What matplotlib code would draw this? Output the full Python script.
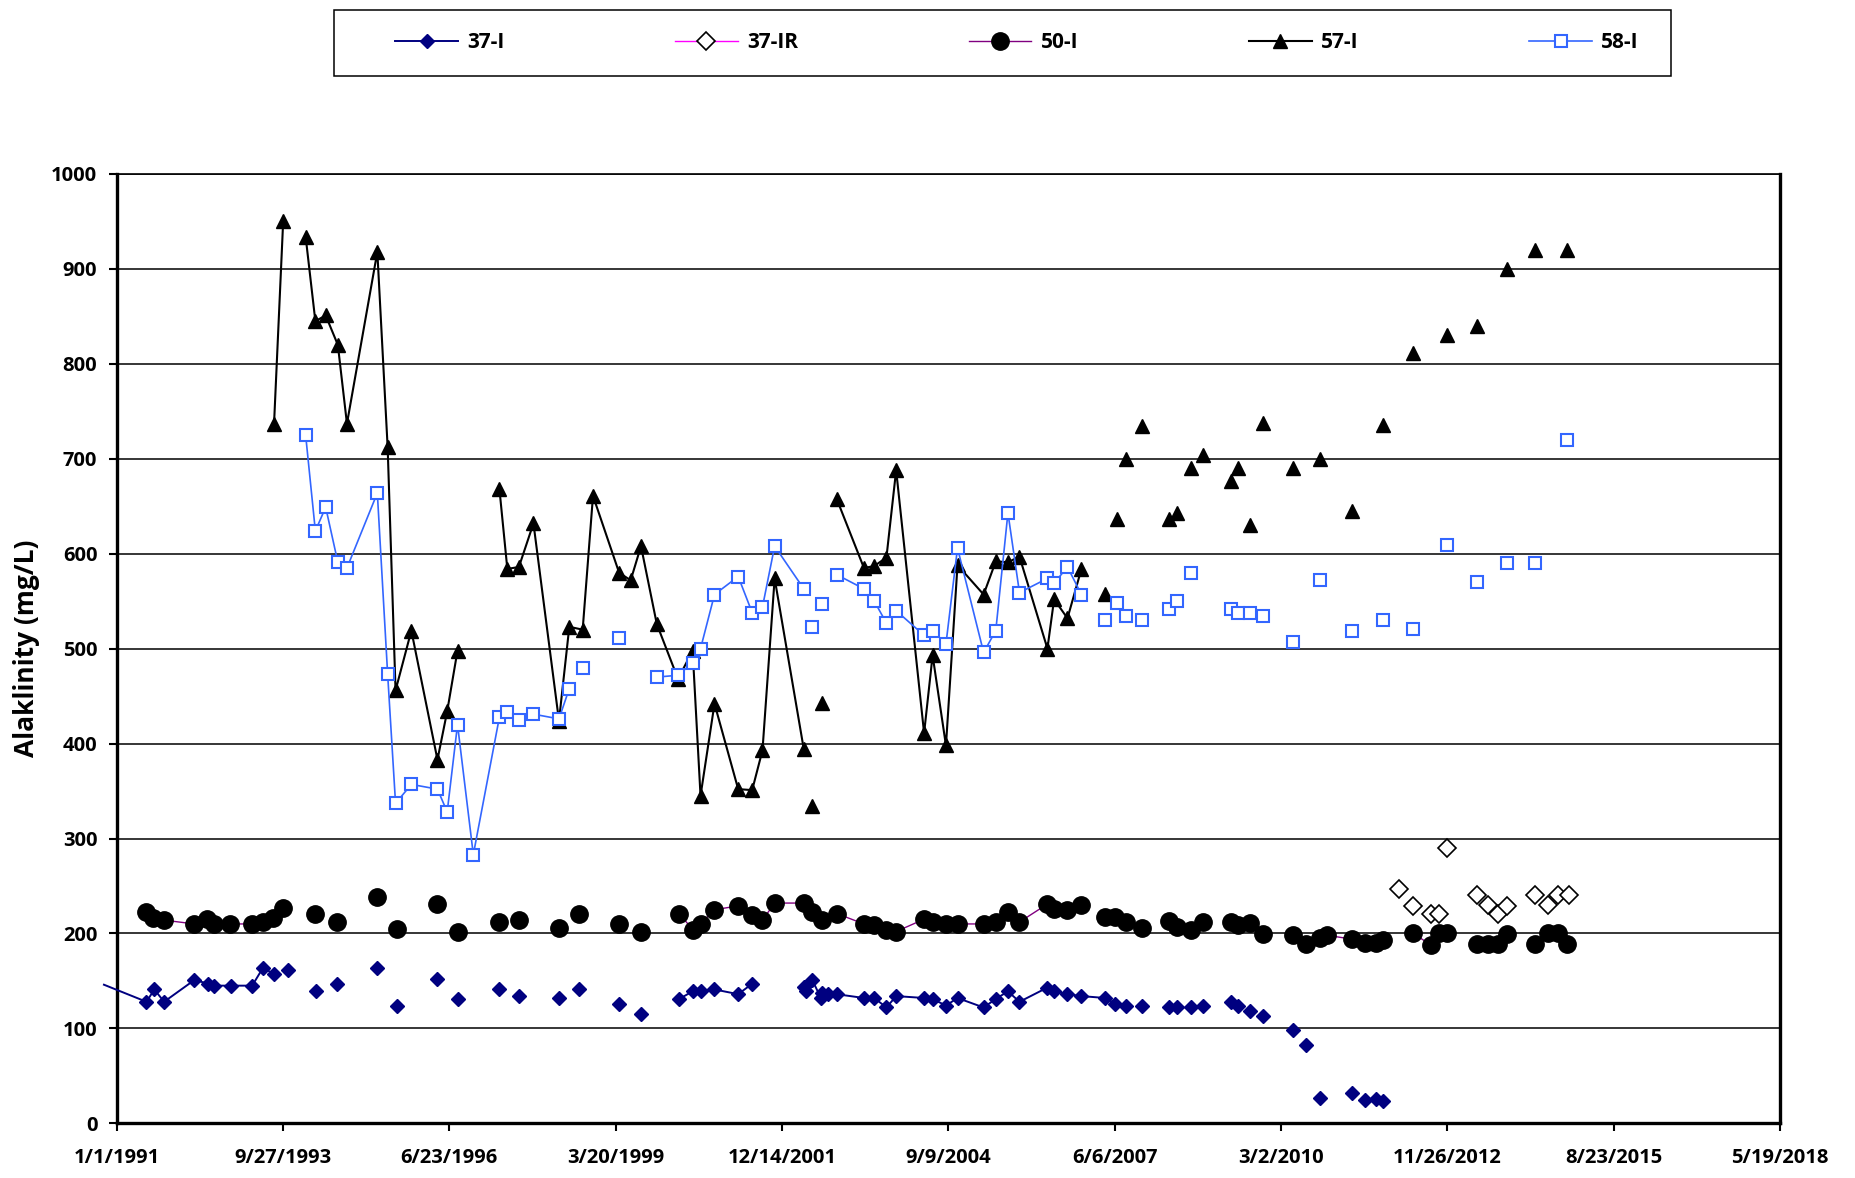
import numpy as np
import matplotlib.pyplot as plt
from matplotlib.lines import Line2D
from matplotlib.patches import Rectangle
from datetime import date, timedelta

plt.rcParams['font.family'] = ['Open Sans', 'DejaVu Sans']
plt.rcParams['font.weight'] = 'bold'

G = np.nan  # blank cell -> Excel leaves the line open

# sample dates as decimal years, alkalinity in mg/L
w37_yr = [1990.79, 1991.49, 1991.62, 1991.78, 1992.28, 1992.51, 1992.60, 1992.88, 1993.23, 1993.41, 1993.59,
          G, 1993.82, G, 1994.28, G, 1994.63, G, 1995.29, G, 1995.62, G, 1996.28, G, 1996.61, G, 1997.30,
          G, 1997.62, G, 1998.28, G, 1998.61, G, 1999.27, G, 1999.63, G,
          2000.26, 2000.48, 2000.61, 2000.84, 2001.23, 2001.46, G,
          2002.31, 2002.35, 2002.45, 2002.59, 2002.61, 2002.71, 2002.85, 2003.30, 2003.47, 2003.67, 2003.83,
          2004.29, 2004.43, 2004.65, 2004.84, 2005.27, 2005.47, 2005.67, 2005.86, 2006.32, 2006.43, 2006.65,
          2006.88, 2007.27, 2007.44, 2007.61, G, 2007.87, G, 2008.32, G, 2008.46, G, 2008.69, G, 2008.88, G,
          2009.34, 2009.46, G, 2009.66, G, 2009.87, G, 2010.36, G, 2010.57, G, 2010.80, G, 2011.33, G,
          2011.54, G, 2011.73, G, 2011.84]
w37_val = [146, 128, 141, 128, 151, 147, 145, 145, 145, 164, 157,
           G, 162, G, 139, G, 147, G, 164, G, 124, G, 152, G, 131, G, 141,
           G, 134, G, 132, G, 141, G, 126, G, 115, G,
           131, 139, 139, 141, 136, 147, G,
           144, 139, 151, 132, 137, 136, 136, 132, 132, 122, 134,
           132, 131, 124, 132, 122, 131, 139, 128, 143, 139, 136,
           134, 132, 126, 124, G, 124, G, 122, G, 122, G, 122, G, 124, G,
           128, 124, G, 118, G, 113, G, 98, G, 82, G, 27, G, 32, G,
           25, G, 26, G, 23]

w37r_yr = [2012.11, G, 2012.34, G, 2012.63, G, 2012.76, G, 2012.89, G, 2013.39, G,
           2013.57, 2013.74, 2013.89, G, 2014.35, G, 2014.56, 2014.72, G, 2014.90]
w37r_val = [247, G, 229, G, 220, G, 221, G, 290, G, 240, G,
            230, 221, 229, G, 240, G, 230, 240, G, 240]

w50_yr = [1991.48, 1991.60, 1991.78, 1992.28, 1992.49, 1992.60, 1992.86, 1993.22, 1993.41, 1993.58, 1993.74,
          G, 1994.27, G, 1994.63, G, 1995.29, G, 1995.62, G, 1996.28, G, 1996.61, G, 1997.30, G, 1997.62,
          G, 1998.28, G, 1998.61, G, 1999.27, G, 1999.63, G,
          2000.26, 2000.48, 2000.61, 2000.84, 2001.23, 2001.46, 2001.63, 2001.83, 2002.31, 2002.45, 2002.61,
          2002.85, 2003.30, 2003.47, 2003.67, 2003.83, 2004.29, 2004.43, 2004.65, 2004.84, 2005.27, 2005.47,
          2005.67, 2005.86, 2006.32, 2006.43, 2006.65, 2006.88, G,
          2007.27, 2007.44, 2007.61, 2007.87, G, 2008.32, 2008.46, 2008.69, 2008.88, G,
          2009.34, 2009.46, 2009.66, 2009.87, G, 2010.36, 2010.57, 2010.80, 2010.93, 2011.33, 2011.54,
          2011.73, 2011.84, G, 2012.34, 2012.63, 2012.76, 2012.89, G, 2013.39, 2013.57, 2013.74, 2013.89, G,
          2014.35, 2014.56, 2014.72, 2014.88]
w50_val = [223, 216, 214, 210, 215, 210, 210, 210, 212, 216, 227,
           G, 221, G, 212, G, 238, G, 205, G, 231, G, 202, G, 212, G, 214,
           G, 206, G, 220, G, 210, G, 202, G,
           221, 204, 210, 225, 229, 219, 214, 232, 232, 223, 214,
           221, 210, 209, 204, 202, 215, 212, 210, 210, 210, 212,
           223, 212, 231, 226, 225, 230, G,
           217, 217, 212, 206, G, 213, 207, 204, 212, G,
           212, 209, 211, 199, G, 198, 189, 195, 198, 194, 190,
           190, 193, G, 200, 188, 200, 200, G, 189, 189, 189, 199, G,
           189, 200, 200, 189]

w57_yr = [1993.59, 1993.74, G,
          1994.11, 1994.27, 1994.44, 1994.64, 1994.79, 1995.29, 1995.46, 1995.59, 1995.85, 1996.28, 1996.44,
          1996.61, G,
          1997.30, 1997.43, 1997.62, 1997.86, 1998.28, 1998.45, 1998.67, 1998.84, 1999.27, 1999.46, 1999.63,
          1999.89, 2000.24, 2000.48, 2000.61, 2000.84, 2001.23, 2001.46, 2001.63, 2001.83, 2002.31, G,
          2002.45, G, 2002.61, G,
          2002.85, 2003.30, 2003.47, 2003.67, 2003.83, 2004.29, 2004.43, 2004.65, 2004.84, 2005.27, 2005.47,
          2005.67, 2005.86, 2006.32, 2006.43, 2006.65, 2006.88, G,
          2007.27, G, 2007.47, G, 2007.61, G, 2007.87, G, 2008.32, G, 2008.46, G, 2008.69, G, 2008.88, G,
          2009.34, G, 2009.46, G, 2009.66, G, 2009.87, G, 2010.36, G, 2010.80, G, 2011.33, G, 2011.84, G,
          2012.34, G, 2012.89, G, 2013.39, G, 2013.89, G, 2014.35, G, 2014.88]
w57_val = [737, 950, G,
           934, 845, 851, 820, 737, 918, 712, 456, 519, 383, 434,
           498, G,
           668, 584, 586, 632, 424, 523, 520, 661, 580, 572, 608,
           526, 468, 498, 345, 442, 352, 351, 393, 574, 394, G,
           334, G, 443, G,
           658, 585, 587, 596, 688, 411, 493, 398, 588, 557, 592,
           591, 597, 500, 552, 532, 584, G,
           558, G, 637, G, 700, G, 735, G, 637, G, 643, G, 690, G, 704, G,
           677, G, 690, G, 630, G, 738, G, 690, G, 700, G, 645, G, 736, G,
           811, G, 830, G, 840, G, 900, G, 920, G, 920]

w58_yr = [1994.11, 1994.27, 1994.44, 1994.64, 1994.79, 1995.29, 1995.46, 1995.59, 1995.85, 1996.28, 1996.44,
          1996.61, 1996.87, 1997.30, 1997.43, 1997.62, 1997.86, 1998.28, 1998.45, G, 1998.67, G, 1999.27, G,
          1999.89, 2000.24, 2000.48, 2000.61, 2000.84, 2001.23, 2001.46, 2001.63, 2001.83, 2002.31, G,
          2002.45, G, 2002.61, G,
          2002.85, 2003.30, 2003.47, 2003.67, 2003.83, 2004.29, 2004.43, 2004.65, 2004.84, 2005.27, 2005.47,
          2005.67, 2005.86, 2006.32, 2006.43, 2006.65, 2006.88, G,
          2007.27, G, 2007.47, G, 2007.61, G, 2007.87, G, 2008.32, G, 2008.46, G, 2008.69, G,
          2009.34, G, 2009.46, G, 2009.66, G, 2009.87, G, 2010.36, G, 2010.80, G, 2011.33, G, 2011.84, G,
          2012.34, G, 2012.89, G, 2013.39, G, 2013.89, G, 2014.35, G, 2014.88]
w58_val = [725, 624, 649, 591, 585, 664, 473, 337, 357, 352, 328,
           420, 283, 428, 433, 425, 431, 426, 458, G, 480, G, 511, G,
           470, 472, 485, 500, 557, 576, 538, 544, 608, 563, G,
           523, G, 547, G,
           578, 563, 550, 527, 540, 514, 519, 505, 606, 496, 519,
           643, 559, 574, 569, 586, 557, G,
           530, G, 548, G, 534, G, 530, G, 542, G, 550, G, 580, G,
           542, G, 538, G, 538, G, 534, G, 507, G, 572, G, 519, G, 530, G,
           521, G, 609, G, 570, G, 590, G, 590, G, 720]


def days(yrs):
    # Excel date axis: days counted from 1/1/1991
    return (np.array(yrs, dtype=float) - 1991.0) * 365.25


W, H = 1856, 1178
fig = plt.figure(figsize=(W / 100, H / 100), dpi=100)
ax = fig.add_axes([116.7 / W, 1 - 1123.3 / H, (1780 - 116.7) / W, (1123.3 - 174) / H])

navy = '#000080'
blue = '#3366FF'

# 37-I, the lead-in line runs past the left axis in the original
ax.plot(days(w37_yr), w37_val, '-', color=navy, lw=1.4, clip_on=False, zorder=3)
ax.plot(days(w37_yr), w37_val, 'D', color=navy, ms=6.8, mec=navy, zorder=3)
ax.plot(days(w37r_yr), w37r_val, '-', color='#FF00FF', lw=1.0, marker='D', ms=9.5,
        mfc='white', mec='black', mew=1.2, zorder=4)
ax.plot(days(w50_yr), w50_val, '-', color='#800080', lw=1.0, marker='o', ms=12.5,
        mfc='black', mec='black', zorder=4)
ax.plot(days(w57_yr), w57_val, '-', color='black', lw=1.5, marker='^', ms=9.5,
        mfc='black', mec='black', zorder=5)
ax.plot(days(w58_yr), w58_val, '-', color=blue, lw=1.2, marker='s', ms=8,
        mfc='white', mec=blue, mew=1.5, zorder=6)

ax.set_xlim(0, 10000)
ax.set_ylim(0, 1000)
xt = np.arange(0, 10001, 1000)
ax.set_xticks(xt)
labels = []
for d in xt:
    dt = date(1991, 1, 1) + timedelta(days=int(d))
    labels.append(f"{dt.month}/{dt.day}/{dt.year}")
ax.set_xticklabels(labels)
ax.set_yticks(np.arange(0, 1001, 100))
ax.tick_params(axis='both', labelsize=14.5, width=1.5, length=6, direction='out', color='black')
ax.tick_params(axis='x', pad=12)
ax.tick_params(axis='y', pad=8)
for lab in ax.get_xticklabels() + ax.get_yticklabels():
    lab.set_fontweight('bold')

ax.grid(axis='y', color='black', lw=1.1)
ax.set_axisbelow(True)
for side in ['left', 'bottom', 'right']:
    ax.spines[side].set_linewidth(2.4)
ax.spines['top'].set_linewidth(1.2)

ax.set_ylabel('Alaklinity (mg/L)', fontsize=19, fontweight='bold', labelpad=8)

handles = [
    Line2D([], [], color=navy, lw=1.4, marker='D', ms=6.8),
    Line2D([], [], color='#FF00FF', lw=1.0, marker='D', ms=9.5, mfc='white', mec='black', mew=1.2),
    Line2D([], [], color='#800080', lw=1.0, marker='o', ms=12.5, mfc='black', mec='black'),
    Line2D([], [], color='black', lw=1.5, marker='^', ms=9.5),
    Line2D([], [], color=blue, lw=1.2, marker='s', ms=8, mfc='white', mec=blue, mew=1.5),
]
names = ['37-I', '37-IR', '50-I', '57-I', '58-I']
fig.legend(handles, names, loc='center', bbox_to_anchor=(1017 / W, 1 - 42.7 / H), ncol=5,
           frameon=False, handlelength=3.0, handletextpad=0.45, columnspacing=8.2,
           prop={'weight': 'bold', 'size': 15})
fig.patches.append(Rectangle((334 / W, 1 - 76 / H), (1671 - 334) / W, 66.5 / H,
                             transform=fig.transFigure, fill=False, edgecolor='black', lw=1.1))

fig.savefig('out.png', dpi=100)
